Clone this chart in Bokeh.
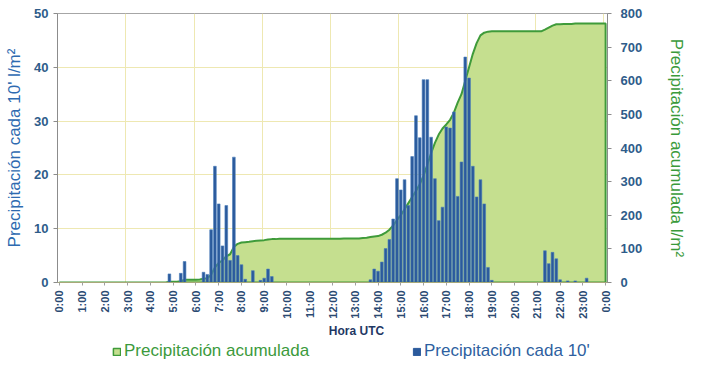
import math
from bokeh.plotting import figure
from bokeh.layouts import column
from bokeh.models import (Range1d, LinearAxis, FixedTicker, Legend, LegendItem, Label)
from bokeh.embed import file_html
from bokeh.resources import INLINE

# ---------------- data ----------------
horas_etiquetas = ["0:00", "1:00", "2:00", "3:00", "4:00", "5:00", "6:00", "7:00",
                   "8:00", "9:00", "10:00", "11:00", "12:00", "13:00", "14:00", "15:00",
                   "16:00", "17:00", "18:00", "19:00", "20:00", "21:00", "22:00", "23:00", "0:00"]

# precipitation every 10 minutes (l/m2), 0:00 .. 24:00 (145 values)
precip_10 = [
    0, 0, 0, 0, 0, 0,              # 0h
    0, 0, 0, 0, 0, 0,              # 1h
    0, 0, 0, 0, 0, 0,              # 2h
    0, 0, 0, 0, 0, 0,              # 3h
    0, 0, 0, 0, 0, 1.6,            # 4h
    0, 0, 1.7, 3.9, 0, 0,          # 5h
    0, 0, 1.9, 1.5, 9.8, 21.6,     # 6h
    14.6, 6.8, 14.3, 4.1, 23.3, 5.0,   # 7h
    3.3, 0.6, 0, 2.2, 0, 0.4,      # 8h
    0.8, 2.5, 1.1, 0, 0, 0,        # 9h
    0, 0, 0, 0, 0, 0,              # 10h
    0, 0, 0, 0, 0, 0,              # 11h
    0, 0, 0, 0, 0, 0,              # 12h
    0, 0, 0, 0, 0.5, 2.5,          # 13h
    2.1, 3.8, 6.3, 8.0, 11.8, 19.3,    # 14h
    17.2, 19.1, 14.3, 23.4, 31.0, 26.9,  # 15h
    37.7, 37.7, 27.0, 19.3, 11.5, 14.0,  # 16h
    28.9, 28.7, 31.7, 16.0, 22.4, 41.9,  # 17h
    38.0, 21.6, 15.9, 19.1, 14.6, 2.8,   # 18h
    0.4, 0, 0, 0, 0, 0,            # 19h
    0, 0, 0, 0, 0, 0,              # 20h
    0, 0, 5.9, 3.5, 5.6, 4.4,      # 21h
    0.5, 0, 0.3, 0, 0.3, 0,        # 22h
    0, 0.8, 0, 0, 0, 0,            # 23h
    0,                             # 24h
]

# accumulated precipitation (l/m2), 0:00 .. 24:00 (145 values)
precip_acum = [
    0, 0, 0, 0, 0, 0,              # 0h
    0, 0, 0, 0, 0, 0,              # 1h
    0, 0, 0, 0, 0, 0,              # 2h
    0, 0, 0, 0, 0, 0,              # 3h
    0, 0, 0, 0, 0, 2,              # 4h
    2, 2, 4, 8, 8, 8,              # 5h
    8, 9, 11, 13, 23, 45,          # 6h
    58, 66, 78, 84, 106, 115,      # 7h
    119, 120, 121, 123, 124, 125,  # 8h
    126, 128, 129, 129, 130, 130,  # 9h
    130, 130, 130, 130, 130, 130,  # 10h
    130, 130, 130, 130, 130, 130,  # 11h
    130, 130, 130, 131, 131, 131,  # 12h
    131, 131, 132, 133, 135, 137,  # 13h
    138, 142, 148, 157, 170, 186,  # 14h
    200, 218, 236, 254, 272, 292,  # 15h
    318, 350, 385, 415, 440, 458,  # 16h
    470, 484, 505, 535, 560, 600,  # 17h
    640, 680, 712, 735, 743, 746,  # 18h
    747, 747, 747, 747, 747, 747,  # 19h
    747, 747, 747, 747, 747, 747,  # 20h
    747, 747, 752, 758, 764, 768,  # 21h
    768, 769, 769, 769, 770, 770,  # 22h
    770, 770, 770, 770, 770, 770,  # 23h
    770,                           # 24h
]

ticks_izq = [0, 10, 20, 30, 40, 50]
ticks_der = [0, 100, 200, 300, 400, 500, 600, 700, 800]

# ---------------- positions (hours) ----------------
horas = [i / 6 for i in range(len(precip_10))]

FONT = "Liberation Sans"

GREEN_FILL = "#C5DF8F"
GREEN_LINE = "#3F9B3A"
BAR_FILL = "#2B5A9C"
BAR_LINE = "#4A7DBA"

p = figure(width=701, height=322,
           x_range=Range1d(-1 / 12, 24 + 1 / 12), y_range=Range1d(0, 50),
           output_backend="svg", toolbar_location=None,
           min_border_left=57, min_border_right=94, min_border_top=13, min_border_bottom=40,
           background_fill_color="white", border_fill_color="white",
           outline_line_color="#A6A6A6")
p.extra_y_ranges = {"acum": Range1d(0, 800)}

# grid
p.ygrid.ticker = FixedTicker(ticks=ticks_izq)
p.ygrid.grid_line_color = "#EEE8B2"
p.xgrid.ticker = FixedTicker(ticks=[3 * k - 1 / 12 for k in range(1, 9)])
p.xgrid.grid_line_color = "#EEE8B2"

# accumulated area
area_x = horas + [horas[-1], horas[0]]
area_y = precip_acum + [0, 0]
area = p.patch(area_x, area_y, y_range_name="acum",
               fill_color=GREEN_FILL, line_color=GREEN_LINE, line_width=2)

# 10-minute bars
bars = p.vbar(x=horas, top=precip_10, width=0.12,
              fill_color=BAR_FILL, line_color=BAR_LINE, line_width=0.6)

# left axis
left = p.yaxis[0]
left.ticker = FixedTicker(ticks=ticks_izq)
left.axis_label = "Precipitación cada 10' l/m²"
left.axis_label_text_font = FONT
left.axis_label_text_font_size = "17px"
left.axis_label_text_font_style = "normal"
left.axis_label_text_color = "#2E6AB0"
left.axis_label_standoff = 7
left.major_label_text_font = FONT
left.major_label_text_font_size = "13px"
left.major_label_text_font_style = "bold"
left.major_label_text_color = "#2E5C8A"
left.major_label_standoff = 5
left.axis_line_color = "#8C8C8C"
left.major_tick_line_color = "#8C8C8C"
left.major_tick_out = 4
left.major_tick_in = 0
left.minor_tick_out = 0
left.minor_tick_in = 0

# right axis
right = LinearAxis(y_range_name="acum", ticker=FixedTicker(ticks=ticks_der),
                   axis_label="Precipitación acumulada l/m²")
right.axis_label_text_font = FONT
right.axis_label_text_font_size = "17px"
right.axis_label_text_font_style = "normal"
right.axis_label_text_color = "#3A9A3A"
right.axis_label_standoff = 22
right.major_label_text_font = FONT
right.major_label_text_font_size = "13px"
right.major_label_text_font_style = "bold"
right.major_label_text_color = "#2E5C8A"
right.major_label_standoff = 9
right.axis_line_color = "#8C8C8C"
right.major_tick_line_color = "#8C8C8C"
right.major_tick_out = 4
right.major_tick_in = 0
right.minor_tick_out = 0
right.minor_tick_in = 0
p.add_layout(right, "right")

# x axis
xa = p.xaxis[0]
xa.ticker = FixedTicker(ticks=list(range(len(horas_etiquetas))))
xa.major_label_overrides = {i: s for i, s in enumerate(horas_etiquetas)}
xa.major_label_orientation = math.pi / 2
xa.major_label_text_font = FONT
xa.major_label_text_font_size = "11px"
xa.major_label_text_font_style = "bold"
xa.major_label_text_color = "#2B4A72"
xa.major_label_standoff = 5
xa.axis_line_color = "#A8A878"
xa.major_tick_line_color = "#A0A0A0"
xa.major_tick_out = 3
xa.major_tick_in = 0
xa.minor_tick_out = 0
xa.minor_tick_in = 0

# ---------------- lower strip: x-axis title and legend ----------------
# (its frame is aligned with the main frame by the column layout: x from 57 to 607)
H2 = 47
p2 = figure(width=701, height=H2, x_range=Range1d(0, 550), y_range=Range1d(0, H2),
            output_backend="svg", toolbar_location=None,
            x_axis_type=None, y_axis_type=None, min_border=0,
            outline_line_color=None, background_fill_color="white",
            border_fill_color="white")
p2.grid.visible = False
# the legend's series copies live on ranges that keep them out of view
p2.extra_x_ranges = {"fuera": Range1d(5000, 6000)}
p2.extra_y_ranges = {"fuera": Range1d(5000, 6000)}

p2.add_layout(Label(x=299, y=H2 - 8, x_units="screen", y_units="screen", text="Hora UTC",
                    text_align="center", text_baseline="middle",
                    text_font=FONT, text_font_size="12px", text_font_style="bold",
                    text_color="#1F3864"))

sw_area = p2.patch(area_x, area_y, x_range_name="fuera", y_range_name="fuera",
                   fill_color=GREEN_FILL, line_color=GREEN_LINE, line_width=1.5)
sw_bars = p2.vbar(x=horas, top=precip_10, width=0.12,
                  x_range_name="fuera", y_range_name="fuera",
                  fill_color=BAR_FILL, line_color=BAR_FILL)

common = dict(orientation="horizontal", glyph_width=9, glyph_height=9,
              label_text_font=FONT, label_text_font_size="17px",
              label_standoff=3, padding=0, margin=0, spacing=0,
              border_line_alpha=0, background_fill_alpha=0, label_height=18)
leg1 = Legend(items=[LegendItem(label="Precipitación acumulada", renderers=[sw_area])],
              location=(55, 8), label_text_color="#3C9A3C", **common)
leg2 = Legend(items=[LegendItem(label="Precipitación cada 10'", renderers=[sw_bars])],
              location=(355, 8), label_text_color="#2E5FA0", **common)
p2.add_layout(leg1)
p2.add_layout(leg2)

layout = column(p, p2, spacing=0)
open("out.html", "w").write(file_html(layout, INLINE))
